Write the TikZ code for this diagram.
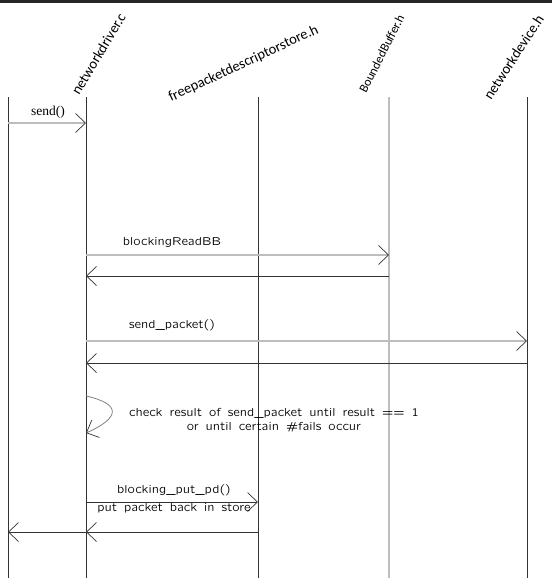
\documentclass[tikz,border=0pt]{standalone}
\usepackage{fontspec}
\newfontfamily\headfont{Carlito}
\newfontfamily\sendfont{Liberation Serif}
\newcommand\msgfont[1]{\fontfamily{lmssq}\fontsize{#1}{14}\selectfont\spaceskip=7pt plus 1pt minus 0.5pt\relax}
\usetikzlibrary{arrows.meta}
\definecolor{lifeblack}{HTML}{333333}
\definecolor{linegray}{HTML}{BDBDBD}
\definecolor{topbar}{HTML}{262626}
\begin{document}
\begin{tikzpicture}[x=1pt,y=-1pt,
  life/.style={draw=lifeblack, line width=1pt},
  lifegray/.style={draw=linegray, line width=1.8pt},
  tipv/.style={-{Straight Barb[length=10pt,width=19pt,line width=0.7pt,color=lifeblack]}},
  callmsg/.style={draw=linegray, line width=1.8pt, tipv},
  retmsg/.style={draw=lifeblack, line width=1pt, tipv},
  selfmsg/.style={draw=gray, line width=0.8pt, tipv},
  head/.style={anchor=base west, inner sep=0pt, font=\headfont\fontsize{14.5}{17}\selectfont, text=black},
  headsmall/.style={head, font=\headfont\fontsize{12.5}{15}\selectfont},
  lbl/.style={inner sep=0pt, font=\msgfont{11.6}, text=black},
]
\useasboundingbox (0,0) rectangle (552,578);
\fill[topbar] (0,0) rectangle (552,3);

% lifeline coordinates
\coordinate (cT) at (8,97);   \coordinate (cB) at (8,578);
\coordinate (ndT) at (86,97); \coordinate (ndB) at (86,578);
\coordinate (fpT) at (258,97);\coordinate (fpB) at (258,578);
\coordinate (bbT) at (389,97);\coordinate (bbB) at (389,578);
\coordinate (devT) at (527,97);\coordinate (devB) at (527,578);

\draw[life] (cT) -- (cB);
\draw[life] (ndT) -- (ndB);
\draw[life] (fpT) -- (fpB);
\draw[lifegray] (bbT) -- (bbB);
\draw[life] (devT) -- (devB);

% headers
\node[head, rotate=59] (hnd) at (79,96) {networkdriver.c};
\node[head, rotate=25] (hfp) at (171,102) {freepacketdescriptorstore.h};
\node[headsmall, rotate=63] (hbb) at (366,94) {BoundedBuffer.h};
\node[head, rotate=57] (hdev) at (491,101) {networkdevice.h};

% send()
\coordinate (s1a) at (8,123); \coordinate (s1b) at (86,123);
\draw[callmsg] (s1a) -- (s1b);
\node[inner sep=0pt, font=\sendfont\fontsize{13.5}{16}\selectfont] (lsend) at (48,112) {send()};

% blockingReadBB
\coordinate (m2a) at (86,255); \coordinate (m2b) at (389,255);
\draw[callmsg] (m2a) -- (m2b);
\node[lbl] (l2) at (172,242) {blockingReadBB};
\coordinate (r2a) at (389,276); \coordinate (r2b) at (86,276);
\draw[retmsg] (r2a) -- (r2b);

% send_packet()
\coordinate (m3a) at (86,341); \coordinate (m3b) at (527,341);
\draw[callmsg] (m3a) -- (m3b);
\node[lbl] (l3) at (172,325) {send\_packet()};
\coordinate (r3a) at (527,363); \coordinate (r3b) at (86,363);
\draw[retmsg] (r3a) -- (r3b);

% self loop
\coordinate (la) at (86,396); \coordinate (lb) at (86,433);
\draw[selfmsg] (la) .. controls (122,404) and (120,418) .. (lb);
\node[lbl, align=center] (l4) at (274,420) {check result of send\_packet until result == 1\\or until certain \#fails occur};

% blocking_put_pd()
\coordinate (m5a) at (86,502); \coordinate (m5b) at (258,502);
\draw[retmsg] (m5a) -- (m5b);
\node[lbl] (l5) at (174,490) {blocking\_put\_pd()};
\node[lbl] (l5b) at (174,508) {put packet back in store};
\coordinate (r5a) at (258,532); \coordinate (r5b) at (86,532); \coordinate (r5c) at (8,532);
\draw[retmsg] (r5a) -- (r5b);
\draw[retmsg] (r5b) -- (r5c);
\end{tikzpicture}
\end{document}
